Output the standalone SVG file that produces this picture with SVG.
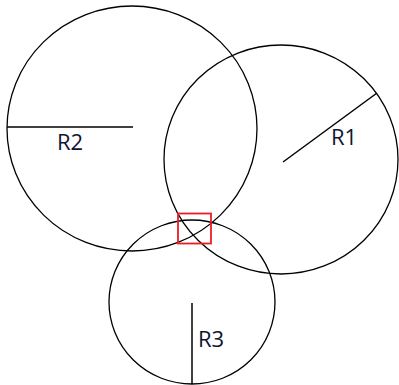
<svg xmlns="http://www.w3.org/2000/svg" width="399" height="385" viewBox="0 0 399 385">
<style>
.c{fill:none;stroke:#000;stroke-width:1.3}
.r{fill:none;stroke:#000;stroke-width:1.5}
.t{font-family:"Open Sans","Noto Sans",sans-serif;font-size:22px;fill:#0f1430}
.box{fill:none;stroke:#ec1c24;stroke-width:1.8}
</style>
<rect width="399" height="385" fill="#fff"/>
<g id="circle-r2">
<ellipse class="c" cx="132" cy="128.5" rx="125" ry="122.5"/>
<line class="r" x1="7" y1="127" x2="133" y2="127"/>
<text class="t" x="57" y="150">R2</text>
</g>
<g id="circle-r1">
<ellipse class="c" cx="281" cy="159.5" rx="117" ry="114.5"/>
<line class="r" x1="283" y1="162" x2="377" y2="93"/>
<text class="t" x="331" y="145">R1</text>
</g>
<g id="circle-r3">
<ellipse class="c" cx="192" cy="302" rx="83" ry="82"/>
<line class="r" x1="192" y1="303" x2="192" y2="384"/>
<text class="t" x="198" y="347">R3</text>
</g>
<g id="intersection-box">
<rect class="box" x="178" y="213.5" width="33" height="30"/>
</g>
</svg>
